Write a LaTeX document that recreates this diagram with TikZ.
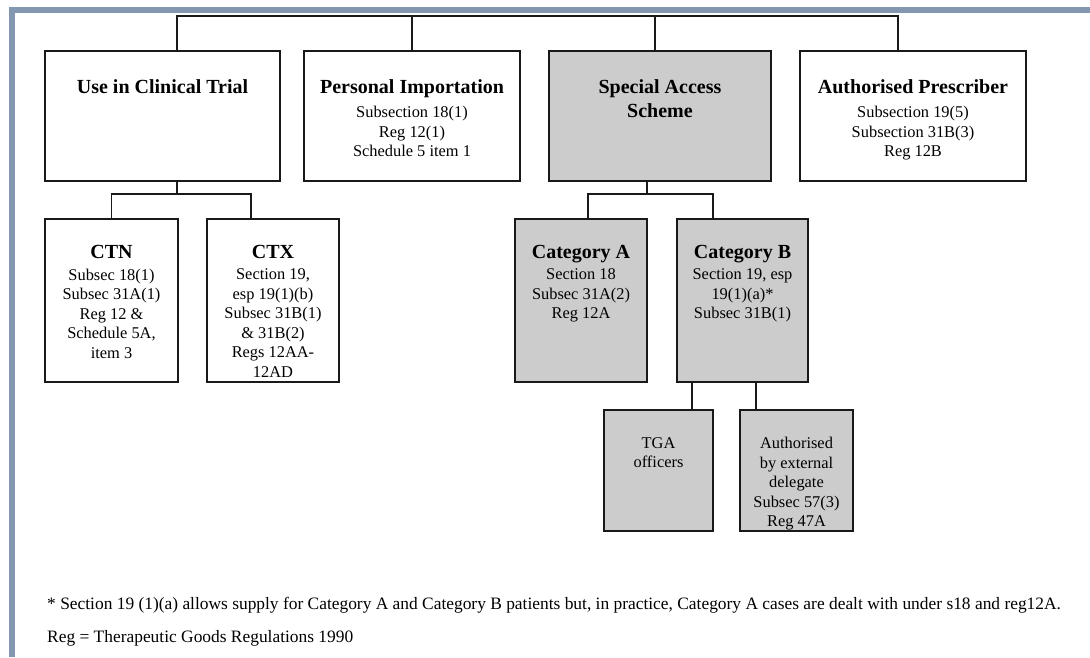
\documentclass[tikz,border=0pt]{standalone}
\usepackage{fontspec}
\setmainfont{Liberation Serif}
\usetikzlibrary{positioning}
\definecolor{framegrey}{HTML}{8497B0}
\definecolor{boxgrey}{HTML}{CCCCCC}

\begin{document}
\begin{tikzpicture}[x=1pt, y=-1pt,
  box/.style={draw=black!90, line width=1.5pt, inner sep=0pt},
  sbox/.style={box, fill=boxgrey},
  head/.style={font=\bfseries\fontsize{20}{24.5}\selectfont, inner sep=0pt, text height=14pt, text depth=4pt},
  headtwo/.style={font=\bfseries\fontsize{20}{24.5}\selectfont, inner sep=0pt, align=center},
  body/.style={font=\fontsize{16.4}{19.5}\selectfont, inner sep=0pt, align=center},
  note/.style={font=\fontsize{17.4}{20}\selectfont, inner sep=0pt},
  link/.style={line width=1.6pt, black!90}]
\useasboundingbox[fill=white] (0,0) rectangle (1090,657);
\fill[framegrey] (9,7) rectangle (1090,13);
\fill[framegrey] (9,7) rectangle (15,657);

\node[box, minimum width=235pt, minimum height=130pt] (use) at (162.5,116) {};
\node[box, minimum width=216pt, minimum height=130pt] (imp) at (412,116) {};
\node[sbox, minimum width=222pt, minimum height=130pt] (sas) at (660,116) {};
\node[box, minimum width=226pt, minimum height=130pt] (presc) at (913,116) {};

\node[box, minimum width=133pt, minimum height=163pt] (ctn) at (111.5,300.5) {};
\node[box, minimum width=132pt, minimum height=163pt] (ctx) at (273,300.5) {};
\node[sbox, minimum width=132pt, minimum height=163pt] (cata) at (581,300.5) {};
\node[sbox, minimum width=131pt, minimum height=163pt] (catb) at (742.5,300.5) {};

\node[sbox, minimum width=109pt, minimum height=121pt] (tga) at (658.5,470.5) {};
\node[sbox, minimum width=113pt, minimum height=121pt] (ext) at (796.5,470.5) {};

\node[head, below=28.6pt of use.north] (usehead) {Use in Clinical Trial};
\node[head, below=28.6pt of imp.north] (imphead) {Personal Importation};
\node[body, below=8.9pt of imphead] (impbody) {Subsection 18(1)\\Reg 12(1)\\Schedule 5 item 1};
\node[headtwo, below=29pt of sas.north] (sashead) {Special Access\\Scheme};
\node[head, below=28.6pt of presc.north] (preschead) {Authorised Prescriber};
\node[body, below=8.9pt of preschead] (prescbody) {Subsection 19(5)\\Subsection 31B(3)\\Reg 12B};

\node[head, below=25.6pt of ctn.north] (ctnhead) {CTN};
\node[body, below=6.4pt of ctnhead] (ctnbody) {Subsec 18(1)\\Subsec 31A(1)\\Reg 12 \&\\Schedule 5A,\\item 3};
\node[head, below=25.6pt of ctx.north] (ctxhead) {CTX};
\node[body, below=6.4pt of ctxhead] (ctxbody) {Section 19,\\esp 19(1)(b)\\Subsec 31B(1)\\\& 31B(2)\\Regs 12AA-\\12AD};
\node[head, below=25.6pt of cata.north] (catahead) {Category A};
\node[body, below=6.4pt of catahead] (catabody) {Section 18\\Subsec 31A(2)\\Reg 12A};
\node[head, below=25.6pt of catb.north] (catbhead) {Category B};
\node[body, below=6.4pt of catbhead] (catbbody) {Section 19, esp\\19(1)(a)*\\Subsec 31B(1)};

\node[body, below=28pt of tga.north] (tgabody) {TGA\\officers};
\node[body, below=28pt of ext.north] (extbody) {Authorised\\by external\\delegate\\Subsec 57(3)\\Reg 47A};

\node[note, anchor=base west] (fnone) at (47,609) {* Section 19 (1)(a) allows supply for Category A and Category B patients but, in practice, Category A cases are dealt with under s18 and reg12A.};
\node[note, anchor=base west] (fntwo) at (47,642) {Reg = Therapeutic Goods Regulations 1990};

\coordinate (bar) at (537,16);
\draw[link] ([xshift=14.5pt]use.north) |- (bar) -| ([xshift=-15pt]presc.north);
\draw[link] (imp.north) -- ++(0,-35);
\draw[link] ([xshift=-5pt]sas.north) -- ++(0,-35);
\draw[link] ([xshift=14.5pt]use.south) -- ++(0,12) coordinate (usej);
\draw[link] (ctn.north) |- (usej) -| ([xshift=-22pt]ctx.north);
\draw[link] ([xshift=-13pt]sas.south) -- ++(0,12) coordinate (sasj);
\draw[link] ([xshift=7pt]cata.north) |- (sasj) -| ([xshift=-29.5pt]catb.north);
\draw[link] ([xshift=-50.5pt]catb.south) -- ([xshift=33.5pt]tga.north);
\draw[link] ([xshift=13.5pt]catb.south) -- ([xshift=-40.5pt]ext.north);

\end{tikzpicture}
\end{document}
